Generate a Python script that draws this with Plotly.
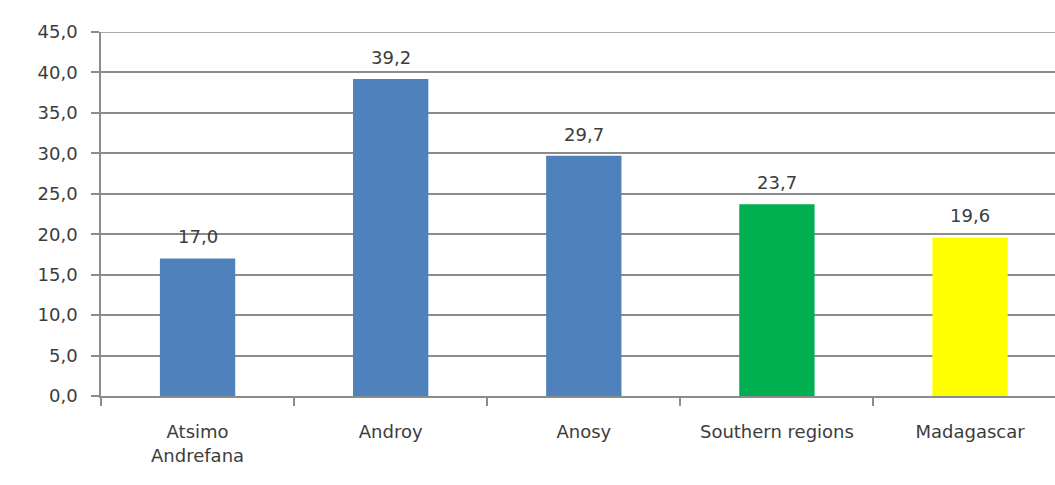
import plotly.graph_objects as go

categories = ["Atsimo<br>Andrefana", "Androy", "Anosy", "Southern regions", "Madagascar"]
values = [17.0, 39.2, 29.7, 23.7, 19.6]
bar_colors = ["#4F81BD", "#4F81BD", "#4F81BD", "#00B050", "#FFFF00"]
y_ticks = [0, 5, 10, 15, 20, 25, 30, 35, 40, 45]

text_color = "#3C3C3C"
grid_color = "#8C8C8C"
font_family = "DejaVu Sans"
font_size = 18

fig = go.Figure()
fig.add_trace(go.Bar(
    x=categories,
    y=values,
    marker=dict(color=bar_colors, line=dict(width=0)),
    width=0.39,
    hoverinfo="skip",
))

# value labels above each bar
for cat, v in zip(categories, values):
    fig.add_annotation(
        x=cat, y=v, text=f"{v:.1f}".replace(".", ","),
        showarrow=False, yanchor="bottom", yshift=9,
        font=dict(family=font_family, size=font_size, color=text_color),
    )

# top gridline at the axis maximum
fig.add_shape(
    type="line", xref="paper", yref="y", x0=0, x1=1, y0=y_ticks[-1], y1=y_ticks[-1],
    line=dict(color=grid_color, width=1.5), layer="below",
)

fig.update_layout(
    width=1055, height=485,
    margin=dict(l=101, r=0, t=32, b=89),
    paper_bgcolor="white", plot_bgcolor="white",
    separators=",.",
    showlegend=False,
    font=dict(family=font_family, size=font_size, color=text_color),
)

fig.update_xaxes(
    type="category",
    range=[-0.5, 4.44],
    showgrid=False,
    showline=True, linecolor=grid_color, linewidth=1.5,
    ticks="outside", ticklen=8, tickcolor=grid_color, tickwidth=1.5,
    tickson="boundaries",
    ticklabelstandoff=19,
    tickfont=dict(family=font_family, size=font_size, color=text_color),
)

fig.update_yaxes(
    range=[0, 45],
    tickmode="array",
    tickvals=y_ticks,
    tickformat=".1f",
    showgrid=True, gridcolor=grid_color, gridwidth=1.5,
    showline=True, linecolor=grid_color, linewidth=1.5,
    ticks="outside", ticklen=8, tickcolor=grid_color, tickwidth=1.5,
    zeroline=False,
    ticklabelstandoff=10,
    tickfont=dict(family=font_family, size=font_size, color=text_color),
)

fig.write_html("out.html")
